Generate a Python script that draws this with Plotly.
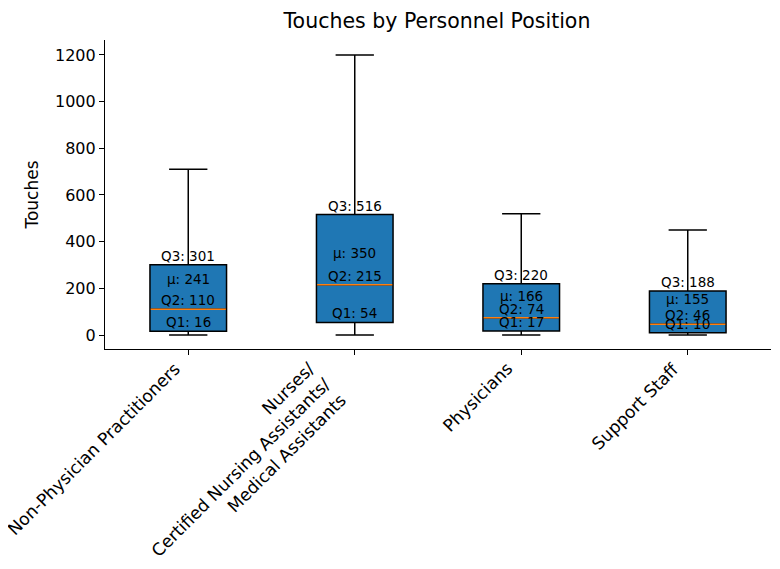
import plotly.graph_objects as go

categories = ["Non-Physician Practitioners",
              "Nurses/<br>Certified Nursing Assistants/<br>Medical Assistants",
              "Physicians", "Support Staff"]
positions = [1, 2, 3, 4]
q1 = [16, 54, 17, 10]
median = [110, 215, 74, 46]
q3 = [301, 516, 220, 188]
mean = [241, 350, 166, 155]
lower = [0, 0, 0, 0]
upper = [710, 1200, 520, 450]

BOX_W = 0.46
FONT = "DejaVu Sans"
W, H = 772, 561
TICK_FS = 17.2

fig = go.Figure()
for i, p in enumerate(positions):
    fig.add_trace(go.Box(
        x=[p], q1=[q1[i]], median=[median[i]], q3=[q3[i]],
        lowerfence=[lower[i]], upperfence=[upper[i]],
        width=BOX_W, whiskerwidth=0.5,
        fillcolor="#1f77b4", line=dict(color="black", width=1.5),
        boxpoints=False, showlegend=False, hoverinfo="skip",
    ))
    fig.add_trace(go.Scatter(
        x=[p - BOX_W / 2 + 0.004, p + BOX_W / 2 - 0.004], y=[median[i], median[i]],
        mode="lines", line=dict(color="#ff7f0e", width=1.5),
        showlegend=False, hoverinfo="skip",
    ))
    for val, label, anchor in [(q3[i], f"Q3: {q3[i]}", "bottom"),
                               (mean[i], f"μ: {mean[i]}", "middle"),
                               (median[i], f"Q2: {median[i]}", "bottom"),
                               (q1[i], f"Q1: {q1[i]}", "bottom")]:
        fig.add_annotation(x=p, y=val, text=label, showarrow=False,
                           yanchor=anchor, xanchor="center", borderpad=0,
                           font=dict(family=FONT, size=13.5, color="black"))
    # rotated category label, right/top corner of its box at the tick
    fig.add_annotation(x=p, xref="x", y=0, yref="paper", yshift=-8, xshift=-3,
                       text=categories[i], showarrow=False, textangle=-45,
                       xanchor="right", yanchor="top", align="right", borderpad=0,
                       font=dict(family=FONT, size=TICK_FS, color="black"))

fig.update_layout(
    width=W, height=H,
    margin=dict(l=97, r=9, t=32, b=220, autoexpand=False),
    plot_bgcolor="white", paper_bgcolor="white",
    font=dict(family=FONT, color="black"),
    title=dict(text="Touches by Personnel Position", x=429 / W,
               xanchor="center", y=1 - 13 / H, yanchor="middle",
               font=dict(family=FONT, size=20.5, color="black")),
)
fig.update_xaxes(range=[0.5, 4.5], tickvals=positions, showticklabels=False,
                 showline=True, linecolor="black", linewidth=1.2,
                 ticks="outside", ticklen=5, tickcolor="black", showgrid=False,
                 zeroline=False, automargin=False)
fig.update_yaxes(range=[-60, 1264], tickvals=[0, 200, 400, 600, 800, 1000, 1200],
                 showline=True, linecolor="black", linewidth=1.2,
                 ticks="outside", ticklen=5, tickcolor="black", showgrid=False,
                 zeroline=False, automargin=False,
                 tickfont=dict(family=FONT, size=16, color="black"),
                 title=dict(text="Touches", font=dict(family=FONT, size=17, color="black"),
                            standoff=12))

fig.write_html("out.html")
